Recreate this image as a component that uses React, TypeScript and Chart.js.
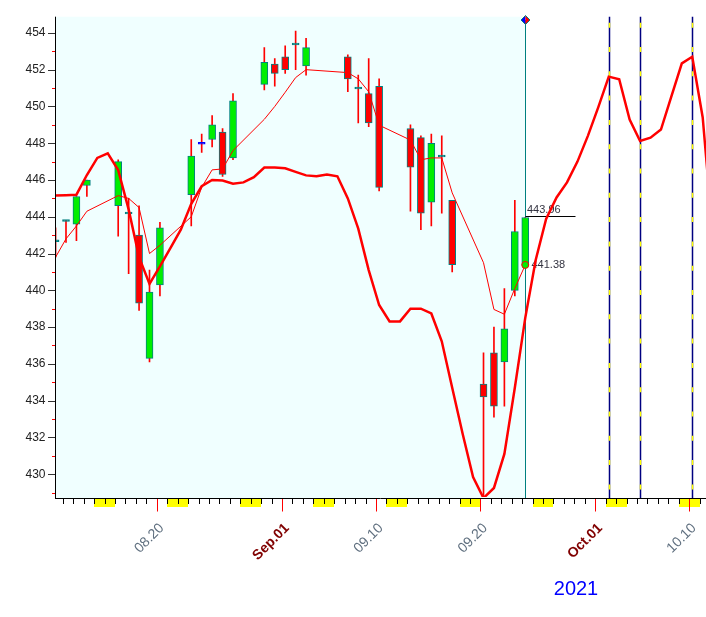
import React, { useEffect, useRef } from 'react';
import { Chart, registerables } from 'chart.js';

Chart.register(...registerables);

// ---------- data ----------
const tradeDates = [
  '2021-08-10', '2021-08-11', '2021-08-12', '2021-08-13',
  '2021-08-16', '2021-08-17', '2021-08-18', '2021-08-19', '2021-08-20',
  '2021-08-23', '2021-08-24', '2021-08-25', '2021-08-26', '2021-08-27',
  '2021-08-30', '2021-08-31', '2021-09-01', '2021-09-02', '2021-09-03',
  '2021-09-07', '2021-09-08', '2021-09-09', '2021-09-10',
  '2021-09-13', '2021-09-14', '2021-09-15', '2021-09-16', '2021-09-17',
  '2021-09-20', '2021-09-21', '2021-09-22', '2021-09-23', '2021-09-24',
];
const opens = [442.7, 443.8, 443.6, 445.7, 444.6, 444.2, 443.0, 436.3, 440.3, 445.2, 448.0, 448.2, 448.6, 447.2, 451.2, 452.3, 452.7, 453.4, 452.2, 452.7, 451.0, 450.7, 451.1, 448.8, 448.3, 444.8, 447.3, 444.9, 434.9, 436.6, 436.1, 440.0, 441.38];
const highs = [443.4, 443.8, 445.1, 446.0, 447.1, 445.0, 444.6, 441.1, 443.7, 448.2, 448.5, 449.5, 448.8, 450.7, 453.2, 452.6, 453.3, 454.1, 453.7, 452.8, 451.7, 452.6, 451.5, 449.0, 448.4, 448.5, 448.4, 444.9, 436.6, 438.0, 440.1, 444.9, 443.96];
const lows = [441.8, 442.6, 442.7, 445.1, 442.95, 440.9, 438.9, 436.1, 439.7, 443.5, 447.5, 447.8, 446.2, 447.1, 450.9, 451.1, 451.8, 452.0, 451.7, 450.8, 449.1, 448.9, 445.4, 444.3, 443.3, 443.5, 444.2, 441.0, 428.5, 433.1, 433.7, 439.7, 441.38];
const closes = [442.7, 443.8, 445.1, 446.0, 447.0, 444.2, 439.3, 439.9, 443.4, 447.3, 448.0, 449.0, 446.3, 450.3, 452.4, 451.8, 452.0, 453.4, 453.2, 451.5, 451.0, 449.1, 445.6, 446.7, 444.2, 448.0, 447.3, 441.4, 434.2, 433.7, 437.9, 443.2, 443.96];
const avgLine = [441.8, 442.8, 443.5, 444.3, 445.15, 445.0, 444.5, 442.0, 442.45, 444.0, 445.6, 446.55, 446.6, 447.6, 449.3, 450.0, 450.77, 451.57, 452.0, 451.84, 451.5, 450.8, 448.98, 448.17, 447.1, 447.2, 447.2, 445.3, 441.5, 438.96, 438.7, 440.1, 441.38];

// daily cycle curve, from 2021-08-09 to 2021-10-12
const cycleStart = '2021-08-09';
const cycleValues = [
  445.15, 445.15, 445.17, 445.2, 446.27, 447.2, 447.45, 446.54, 444.4, 441.8,
  440.35, 441.3, 442.3, 443.3, 444.7, 445.66, 446.0, 445.97, 445.8, 445.87,
  446.15, 446.68, 446.68, 446.64, 446.44, 446.25, 446.2, 446.3, 446.2, 445.0,
  443.35, 441.1, 439.2, 438.31, 438.31, 439.0, 439.0, 438.74, 437.23, 434.7,
  432.2, 429.85, 428.7, 429.25, 431.1, 434.7, 438.5, 441.65, 443.88, 445.05,
  445.87, 447.0, 448.4, 449.96, 451.62, 451.48, 449.28, 448.12, 448.3, 448.74,
  450.55, 452.34, 452.7, 449.4, 442.8,
];

const cycleMarks = ['2021-10-02', '2021-10-05', '2021-10-10'];
const axisLabelDates = ['2021-08-20', '2021-09-01', '2021-09-10', '2021-09-20', '2021-10-01', '2021-10-10'];
const axisLabelTexts = ['08.20', 'Sep.01', '09.10', '09.20', 'Oct.01', '10.10'];
const axisLabelIsMonth = [false, true, false, false, true, false];
const yearText = '2021';
const yTickLabelsEvery = 2;

// ---------- helpers ----------
const FONT = '"Liberation Sans", Arial, sans-serif';
const DAYMS = 86400000;
const BASE = Date.UTC(2021, 6, 31);
function dayNum(s: string): number {
  const [yy, mm, dd] = s.split('-').map(Number);
  return Math.round((Date.UTC(yy, mm - 1, dd) - BASE) / DAYMS);
}
const TICK_SHIFT = 0.3;
const X_MIN = 9.946;
const X_MAX = 72.316;
const Y_MIN = 428.76;
const Y_MAX = 454.88;

const lastIdx = tradeDates.length - 1;
const lastDay = dayNum(tradeDates[lastIdx]);
const lastOpen = opens[lastIdx];
const lastClose = closes[lastIdx];

const isDoji = (i: number) => Math.abs(closes[i] - opens[i]) < 0.05;
const bodyColors = tradeDates.map((d, i) => {
  if (isDoji(i)) return d === '2021-08-24' ? '#0000FF' : '#008080';
  return closes[i] > opens[i] ? '#00EE00' : '#FF0000';
});
const bodyBorders = tradeDates.map((d, i) => (isDoji(i) && d === '2021-08-24' ? '#0000FF' : '#008080'));

const decor = {
  id: 'decor',
  beforeDraw(chart: any) {
    const { ctx, chartArea: a, scales } = chart;
    const x = scales.x;
    ctx.save();
    ctx.fillStyle = '#FFFFFF';
    ctx.fillRect(0, 0, chart.width, chart.height);
    const xe = x.getPixelForValue(lastDay);
    ctx.fillStyle = '#F0FFFF';
    ctx.fillRect(a.left, a.top, xe - a.left, a.bottom - a.top + 1);
    ctx.restore();
  },
  beforeDatasetsDraw(chart: any) {
    const { ctx, chartArea: a, scales } = chart;
    const x = scales.x;
    const y = scales.y;
    ctx.save();
    for (const d of cycleMarks) {
      const px = Math.round(x.getPixelForValue(dayNum(d))) + 0.5;
      ctx.lineWidth = 1.5;
      ctx.setLineDash([]);
      ctx.strokeStyle = '#000080';
      ctx.beginPath();
      ctx.moveTo(px, a.top);
      ctx.lineTo(px, a.bottom + 1);
      ctx.stroke();
      ctx.strokeStyle = '#FFFF00';
      ctx.setLineDash([5, 19.3]);
      ctx.beginPath();
      ctx.moveTo(px, a.top + 6);
      ctx.lineTo(px, a.bottom);
      ctx.stroke();
    }
    ctx.setLineDash([]);
    const xe = Math.round(x.getPixelForValue(lastDay)) + 0.5;
    ctx.lineWidth = 1;
    ctx.strokeStyle = '#008080';
    ctx.beginPath();
    ctx.moveTo(xe, 20);
    ctx.lineTo(xe, a.bottom + 1);
    ctx.stroke();

    // last close annotation
    const yC = Math.round(y.getPixelForValue(lastClose)) - 0.5;
    ctx.strokeStyle = '#000000';
    ctx.beginPath();
    ctx.moveTo(xe, yC);
    ctx.lineTo(xe + 50, yC);
    ctx.stroke();
    ctx.font = `11px ${FONT}`;
    ctx.fillStyle = '#333340';
    ctx.textAlign = 'left';
    ctx.textBaseline = 'alphabetic';
    ctx.fillText(lastClose.toFixed(2), xe + 1.5, yC - 3.5);
    const yO = y.getPixelForValue(lastOpen);
    ctx.textBaseline = 'middle';
    ctx.fillText(lastOpen.toFixed(2), xe + 6, yO + 0.5);
    ctx.restore();
  },
  afterDraw(chart: any) {
    const { ctx, chartArea: a, scales } = chart;
    const x = scales.x;
    const y = scales.y;
    ctx.save();
    const axisY = a.bottom + 1.5;

    // weekend bars
    ctx.fillStyle = '#FFFF00';
    for (let v = Math.floor(X_MIN) - 2; v <= Math.ceil(X_MAX); v++) {
      const wd = new Date(BASE + v * DAYMS).getUTCDay();
      if (wd !== 6) continue;
      let x0 = x.getPixelForValue(v - TICK_SHIFT);
      let x1 = x.getPixelForValue(v + 2 - TICK_SHIFT);
      x0 = Math.max(x0, a.left + 1);
      x1 = Math.min(x1, a.right);
      if (x1 > x0) ctx.fillRect(Math.round(x0), axisY + 0.5, Math.round(x1) - Math.round(x0), 8);
    }

    // axes lines
    ctx.strokeStyle = '#000000';
    ctx.lineWidth = 1;
    ctx.beginPath();
    ctx.moveTo(a.left + 0.5, a.top);
    ctx.lineTo(a.left + 0.5, axisY);
    ctx.moveTo(a.left, axisY);
    ctx.lineTo(a.right, axisY);
    ctx.stroke();

    // daily ticks
    const labelDays = axisLabelDates.map(dayNum);
    for (let v = Math.floor(X_MIN); v <= Math.ceil(X_MAX); v++) {
      const tx = x.getPixelForValue(v - TICK_SHIFT);
      if (tx < a.left + 2 || tx > a.right) continue;
      const px = Math.round(tx) + 0.5;
      const isLab = labelDays.includes(v);
      ctx.strokeStyle = isLab ? '#FF0000' : '#000000';
      ctx.beginPath();
      ctx.moveTo(px, axisY + 0.5);
      ctx.lineTo(px, isLab ? axisY + 13 : axisY + 5.5);
      ctx.stroke();
    }

    // rotated date labels
    labelDays.forEach((v, i) => {
      const tx = x.getPixelForValue(v - TICK_SHIFT);
      ctx.save();
      ctx.translate(tx + 5, 526);
      ctx.rotate(-Math.PI / 4);
      ctx.textAlign = 'right';
      ctx.textBaseline = 'middle';
      ctx.font = axisLabelIsMonth[i] ? `bold 14px ${FONT}` : `14px ${FONT}`;
      ctx.fillStyle = axisLabelIsMonth[i] ? '#800000' : '#5F6F7F';
      ctx.fillText(axisLabelTexts[i], 0, 0);
      ctx.restore();
    });

    // year
    ctx.font = `20px ${FONT}`;
    ctx.fillStyle = '#0000FF';
    ctx.textAlign = 'center';
    ctx.textBaseline = 'alphabetic';
    ctx.fillText(yearText, 576, 595);

    // y ticks
    for (let v = Math.ceil(Y_MIN); v <= Math.floor(Y_MAX); v++) {
      const py = Math.round(y.getPixelForValue(v)) + 0.5;
      const major = v % yTickLabelsEvery === 0;
      ctx.strokeStyle = major ? '#333333' : '#FF0000';
      ctx.beginPath();
      ctx.moveTo(major ? a.left - 7 : a.left - 3, py);
      ctx.lineTo(a.left, py);
      ctx.stroke();
    }

    // diamond marker
    const xe = Math.round(x.getPixelForValue(lastDay)) + 0.5;
    const dy = 20;
    const r = 4.5;
    ctx.fillStyle = '#0000FF';
    ctx.beginPath();
    ctx.moveTo(xe - r, dy);
    ctx.lineTo(xe, dy - r);
    ctx.lineTo(xe, dy + r);
    ctx.closePath();
    ctx.fill();
    ctx.fillStyle = '#FF0000';
    ctx.beginPath();
    ctx.moveTo(xe + r, dy);
    ctx.lineTo(xe, dy - r);
    ctx.lineTo(xe, dy + r);
    ctx.closePath();
    ctx.fill();
    ctx.strokeStyle = '#008080';
    ctx.beginPath();
    ctx.moveTo(xe - r, dy);
    ctx.lineTo(xe, dy - r);
    ctx.lineTo(xe + r, dy);
    ctx.lineTo(xe, dy + r);
    ctx.closePath();
    ctx.stroke();
    ctx.restore();
  },
};

export default function App() {
  const ref = useRef<HTMLCanvasElement>(null);
  useEffect(() => {
    const cycleStartDay = dayNum(cycleStart);
    const chart = new Chart(ref.current as HTMLCanvasElement, {
      type: 'bar',
      data: {
        datasets: [
          {
            type: 'line',
            data: cycleValues.map((v, i) => ({ x: cycleStartDay + i, y: v })),
            borderColor: '#FF0000',
            borderWidth: 2.5,
            pointRadius: 0,
            tension: 0,
            order: 0,
          } as any,
          {
            type: 'line',
            data: tradeDates.map((d, i) => ({ x: dayNum(d), y: avgLine[i] })),
            borderColor: '#FF0000',
            borderWidth: 1,
            pointRadius: tradeDates.map((_, i) => (i === lastIdx ? 3.5 : 0)),
            pointBackgroundColor: '#00EE00',
            pointBorderColor: '#FF0000',
            pointBorderWidth: 1,
            tension: 0,
            order: 1,
          } as any,
          {
            type: 'bar',
            data: tradeDates.map((d, i) => ({
              x: dayNum(d),
              y: isDoji(i) ? [opens[i] - 0.05, opens[i] + 0.05] : [opens[i], closes[i]],
            })),
            backgroundColor: bodyColors,
            borderColor: bodyBorders,
            borderWidth: 1,
            borderSkipped: false,
            barThickness: 7,
            grouped: false,
            order: 2,
          } as any,
          {
            type: 'bar',
            data: tradeDates.map((d, i) => ({ x: dayNum(d), y: [lows[i], highs[i]] })),
            backgroundColor: '#FF0000',
            borderWidth: 0,
            barThickness: 1,
            grouped: false,
            order: 3,
          } as any,
        ],
      },
      options: {
        animation: false,
        responsive: false,
        events: [],
        layout: { autoPadding: false, padding: { top: 13, right: 0, bottom: 120, left: 0 } },
        plugins: { legend: { display: false }, tooltip: { enabled: false } },
        scales: {
          x: {
            type: 'linear',
            min: X_MIN,
            max: X_MAX,
            offset: false,
            display: false,
          },
          y: {
            type: 'linear',
            position: 'left',
            min: Y_MIN,
            max: Y_MAX,
            afterFit: (s: any) => {
              s.width = 55;
            },
            grid: { display: false, drawTicks: false },
            border: { display: false },
            ticks: {
              stepSize: 1,
              maxTicksLimit: 100,
              autoSkip: false,
              includeBounds: false,
              padding: 9.5,
              color: '#222222',
              font: { family: FONT, size: 12 },
              callback: (v: any) => (Number(v) % yTickLabelsEvery === 0 ? String(v) : ''),
            },
          },
        },
      } as any,
      plugins: [decor],
    });
    return () => chart.destroy();
  }, []);
  return (
    <canvas
      ref={ref}
      width={706}
      height={617}
      style={{ position: 'absolute', left: 0, top: 0, width: 706, height: 617, display: 'block' }}
    />
  );
}
